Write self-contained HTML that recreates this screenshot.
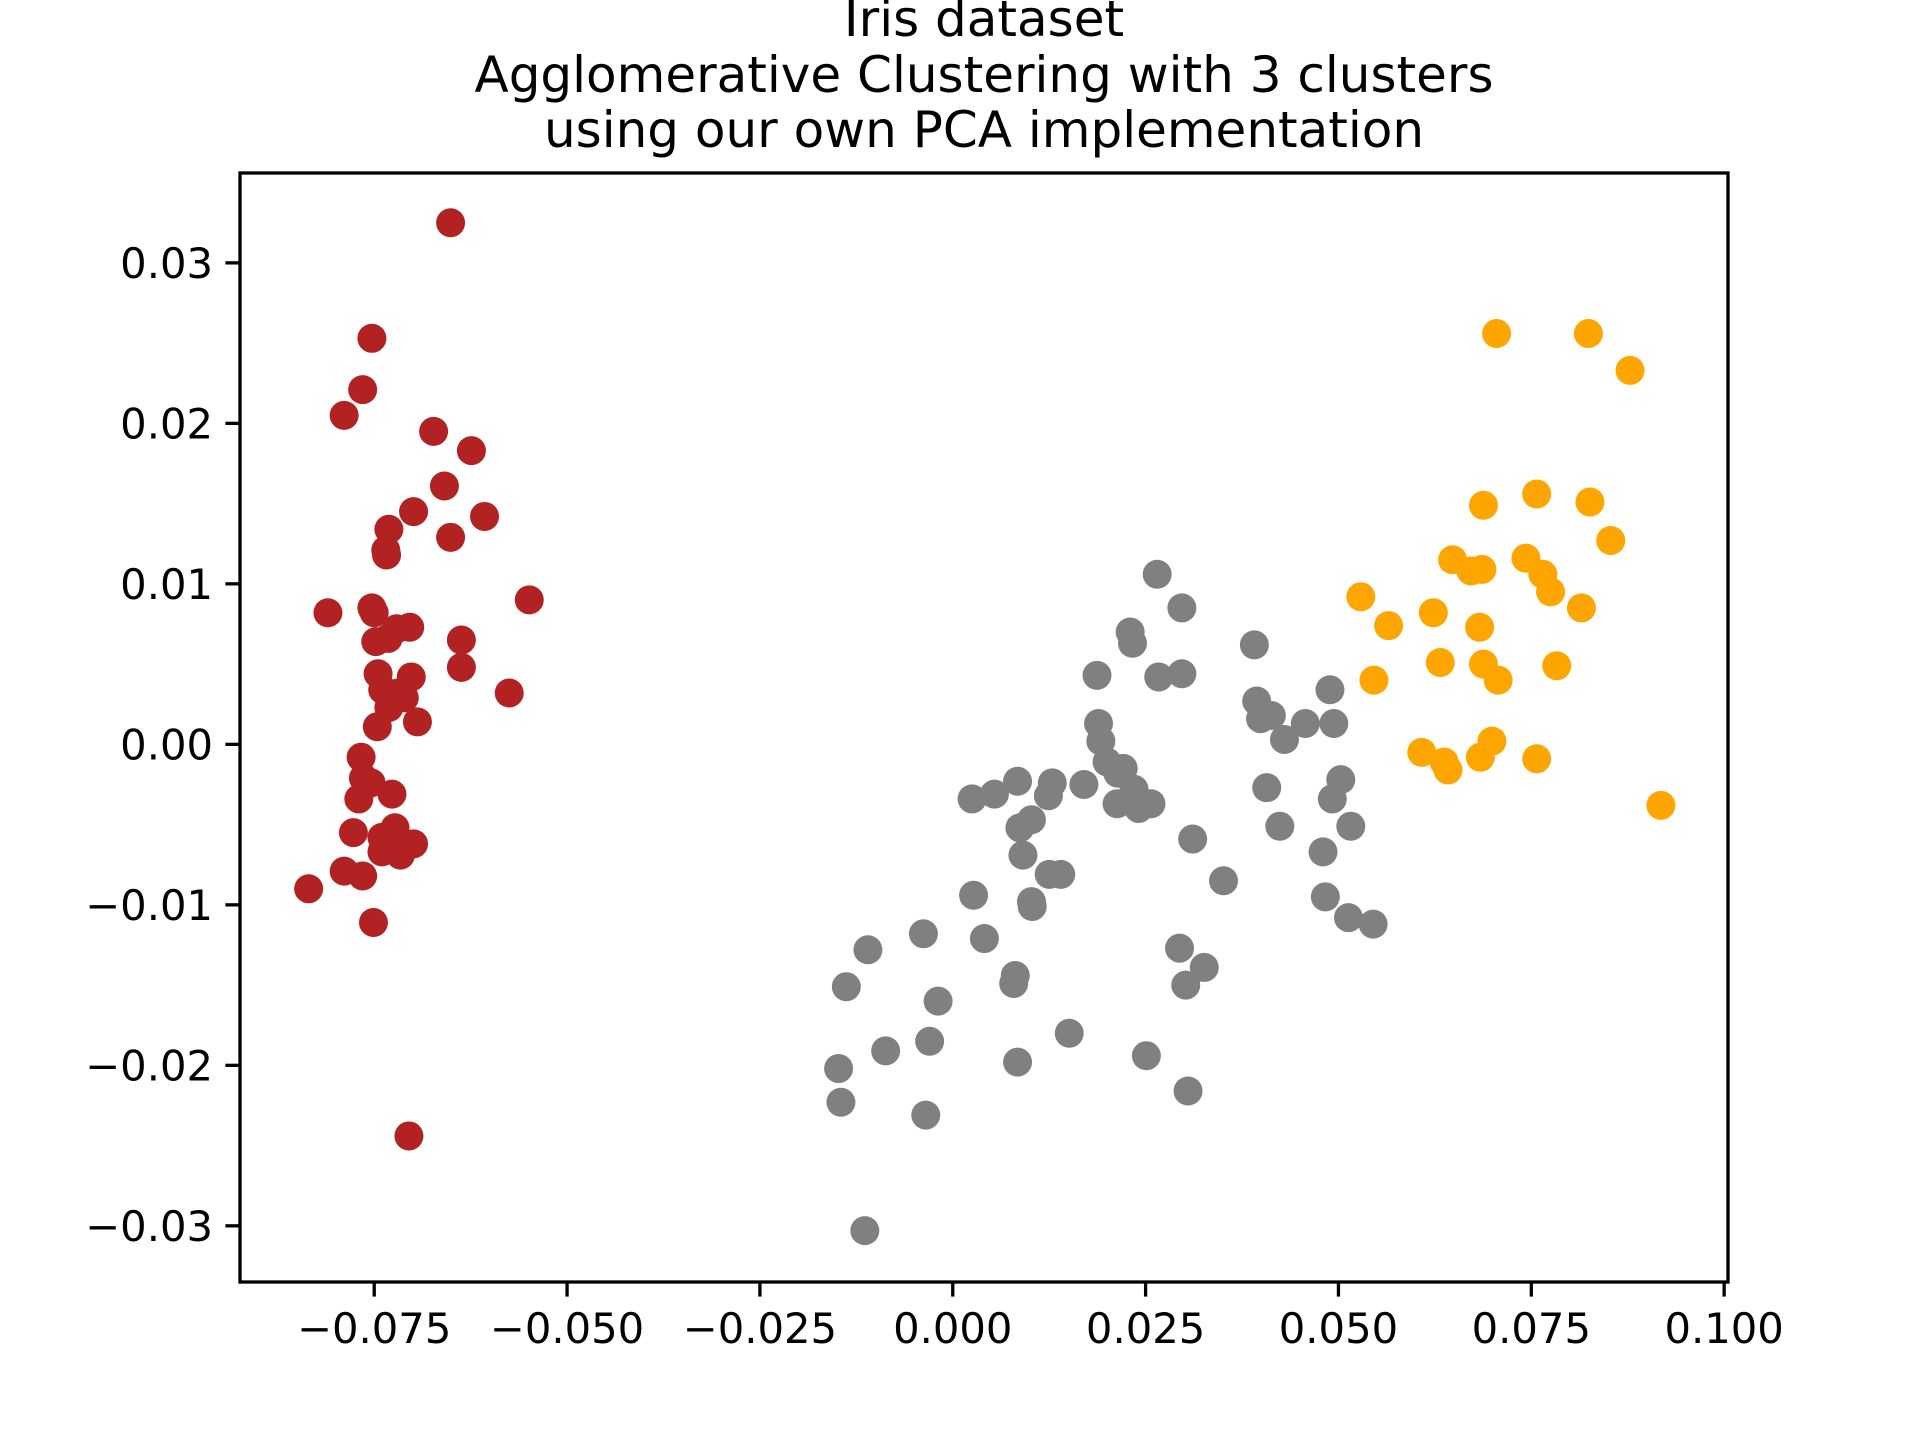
<!DOCTYPE html>
<html><head><meta charset="utf-8"><style>html,body{margin:0;padding:0;background:#fff}svg{display:block}</style></head>
<body>
<svg id="chart" width="1920" height="1440" xmlns="http://www.w3.org/2000/svg" font-family="'DejaVu Sans','Liberation Sans',sans-serif">
<rect width="1920" height="1440" fill="#fff"/>
<g font-size="50" text-anchor="middle" fill="#000">
<text x="984" y="36">Iris dataset</text>
<text x="984" y="92">Agglomerative Clustering with 3 clusters</text>
<text x="984" y="147">using our own PCA implementation</text>
</g>
<g id="marks"></g>
<g id="axes"></g>
</svg>
<script>
const xTicks = [-0.075, -0.050, -0.025, 0.000, 0.025, 0.050, 0.075, 0.100];
const xTickLabels = ["\u22120.075","\u22120.050","\u22120.025","0.000","0.025","0.050","0.075","0.100"];
const yTicks = [0.03, 0.02, 0.01, 0.00, -0.01, -0.02, -0.03];
const yTickLabels = ["0.03","0.02","0.01","0.00","\u22120.01","\u22120.02","\u22120.03"];
const clusterColors = ["#b22222", "#808080", "#ffa500"];
const cluster0X = [-0.0651,-0.0753,-0.0765,-0.0789,-0.0673,-0.0624,-0.0659,-0.0699,-0.0607,-0.0731,-0.0651,-0.0735,-0.0734,-0.0549,-0.0810,-0.0753,-0.0750,-0.0721,-0.0704,-0.0748,-0.0732,-0.0637,-0.0637,-0.0745,-0.0702,-0.0739,-0.0719,-0.0711,-0.0731,-0.0575,-0.0746,-0.0694,-0.0767,-0.0764,-0.0754,-0.0770,-0.0727,-0.0777,-0.0723,-0.0740,-0.0699,-0.0740,-0.0716,-0.0789,-0.0765,-0.0835,-0.0751,-0.0705];
const cluster0Y = [0.0325,0.0253,0.0221,0.0205,0.0195,0.0183,0.0161,0.0145,0.0142,0.0134,0.0129,0.0121,0.0118,0.0090,0.0082,0.0085,0.0082,0.0072,0.0073,0.0064,0.0066,0.0065,0.0048,0.0044,0.0042,0.0034,0.0032,0.0029,0.0023,0.0032,0.0011,0.0014,-0.0008,-0.0021,-0.0024,-0.0034,-0.0031,-0.0055,-0.0052,-0.0058,-0.0062,-0.0067,-0.0069,-0.0079,-0.0082,-0.0090,-0.0111,-0.0244];
const cluster1X = [-0.0114,-0.0148,-0.0145,-0.0035,-0.0087,-0.0030,-0.0138,-0.0110,-0.0038,-0.0019,0.0027,0.0041,0.0081,0.0079,0.0084,0.0151,0.0251,0.0305,0.0294,0.0302,0.0326,0.0102,0.0103,0.0125,0.0140,0.0091,0.0102,0.0087,0.0025,0.0054,0.0084,0.0124,0.0129,0.0170,0.0189,0.0192,0.0200,0.0214,0.0221,0.0213,0.0235,0.0241,0.0257,0.0311,0.0351,0.0187,0.0230,0.0233,0.0265,0.0297,0.0267,0.0297,0.0391,0.0394,0.0399,0.0413,0.0430,0.0457,0.0489,0.0494,0.0407,0.0503,0.0492,0.0424,0.0516,0.0480,0.0483,0.0513,0.0545];
const cluster1Y = [-0.0303,-0.0202,-0.0223,-0.0231,-0.0191,-0.0185,-0.0151,-0.0128,-0.0118,-0.0160,-0.0094,-0.0121,-0.0144,-0.0149,-0.0198,-0.0180,-0.0194,-0.0216,-0.0127,-0.0150,-0.0139,-0.0098,-0.0101,-0.0081,-0.0081,-0.0069,-0.0047,-0.0052,-0.0034,-0.0031,-0.0023,-0.0032,-0.0024,-0.0025,0.0013,0.0002,-0.0011,-0.0018,-0.0015,-0.0037,-0.0028,-0.0040,-0.0037,-0.0059,-0.0085,0.0043,0.0070,0.0063,0.0106,0.0085,0.0042,0.0044,0.0062,0.0027,0.0016,0.0018,0.0003,0.0013,0.0034,0.0013,-0.0027,-0.0022,-0.0034,-0.0051,-0.0051,-0.0067,-0.0095,-0.0108,-0.0112];
const cluster2X = [0.0705,0.0824,0.0878,0.0688,0.0757,0.0826,0.0853,0.0648,0.0672,0.0686,0.0743,0.0765,0.0775,0.0815,0.0529,0.0565,0.0623,0.0683,0.0632,0.0688,0.0707,0.0783,0.0546,0.0608,0.0637,0.0642,0.0684,0.0699,0.0757,0.0918];
const cluster2Y = [0.0256,0.0256,0.0233,0.0149,0.0156,0.0151,0.0127,0.0115,0.0108,0.0109,0.0116,0.0106,0.0095,0.0085,0.0092,0.0074,0.0082,0.0073,0.0051,0.0050,0.0040,0.0049,0.0040,-0.0005,-0.0011,-0.0016,-0.0008,0.0002,-0.0009,-0.0038];

const L=240,R=1728,T=173,B=1282;
const xMin=-0.0924,xMax=0.1005,yMin=-0.0335,yMax=0.0356;
function sx(v){return L+(v-xMin)/(xMax-xMin)*(R-L);}
function sy(v){return B-(v-yMin)/(yMax-yMin)*(B-T);}
const NS="http://www.w3.org/2000/svg";
const marks=document.getElementById('marks');
const axes=document.getElementById('axes');
function mk(tag,attrs,parent){const e=document.createElementNS(NS,tag);for(const k in attrs)e.setAttribute(k,attrs[k]);parent.appendChild(e);return e;}
const series=[[cluster0X,cluster0Y],[cluster1X,cluster1Y],[cluster2X,cluster2Y]];
series.forEach((s,ci)=>{
  for(let i=0;i<s[0].length;i++){
    const c=mk('circle',{cx:sx(s[0][i]),cy:sy(s[1][i]),r:14.5,fill:clusterColors[ci]},marks);
    
    
  }
});
const frame=mk('rect',{x:L,y:T,width:R-L,height:B-T,fill:'none',stroke:'#000','stroke-width':3.3},axes);


xTicks.forEach((v,i)=>{
  const x=sx(v);
  const t=mk('line',{x1:x,x2:x,y1:B,y2:B+14.6,stroke:'#000','stroke-width':3.3},axes);
  
  
  const lb=mk('text',{x:x,y:B+61,'font-size':41.7,'text-anchor':'middle',fill:'#000'},axes);
  lb.textContent=xTickLabels[i];
  
  
});
yTicks.forEach((v,i)=>{
  const y=sy(v);
  const t=mk('line',{x1:L-14.6,x2:L,y1:y,y2:y,stroke:'#000','stroke-width':3.3},axes);
  
  
  const lb=mk('text',{x:L-27,y:y+15,'font-size':41.7,'text-anchor':'end',fill:'#000'},axes);
  lb.textContent=yTickLabels[i];
  
  
});
</script>
</body></html>
